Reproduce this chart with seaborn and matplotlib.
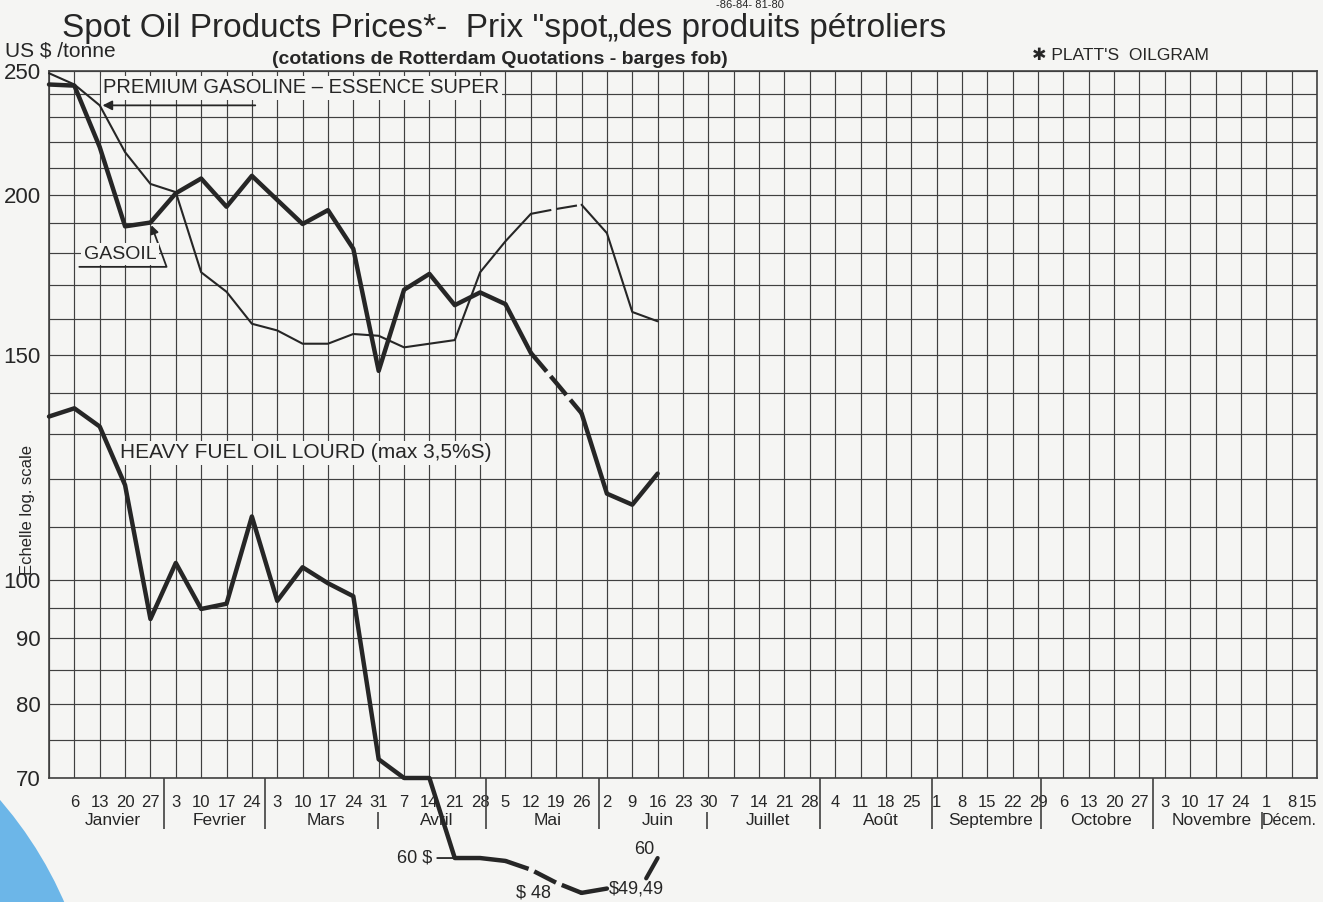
import numpy as np
import pandas as pd
import matplotlib
matplotlib.use('Agg')
import matplotlib.pyplot as plt
import matplotlib.dates as mdates
import matplotlib.ticker as mticker
from matplotlib.patches import Ellipse
import seaborn as sns

# ── Data: weekly Rotterdam spot quotations, US $ / tonne ──
weeks = pd.date_range('1985-12-30', periods=25, freq='7D')

gasoline = np.array([249, 244, 235, 216, 204, 201, 174, 168, 158.6, 156.7, 153, 153,
                     155.7, 155.2, 152, 153, 154, 174, 184, 193.3, 195, 196.5, 186.7,
                     162, 159.3])
gasoil = np.array([244, 243.5, 218, 189, 190.3, 200.6, 206, 195.8, 207, 198.2, 189.8,
                   194.6, 181.5, 145.7, 168.6, 173.5, 164, 167.8, 164.3, 150.5, 142.6,
                   135, 116.8, 114.5, 121.1])
fuel = np.array([134.2, 136.2, 131.8, 118.6, 93.2, 103.1, 94.9, 95.8, 112.1, 96.3, 102.3,
                 99.4, 97.1, 72.4, 70, 70, 60, 60, 59, 56, 51.5, 48, 49.49])
fuel_jun_x = pd.to_datetime(['1986-06-12 20:00', '1986-06-16 00:00'])
fuel_jun = np.array([53, 60])

# weeks drawn dashed (start, end index)
gasoline_gap = (19, 21)
gasoil_gap = (19, 21)
fuel_gap = (18, 21)

months = ['Janvier', 'Fevrier', 'Mars', 'Avril', 'Mai', 'Juin', 'Juillet', 'Août',
          'Septembre', 'Octobre', 'Novembre', 'Décem.']
short_sep = ['Avril', 'Juillet', 'Décem.']
ytick_major = [70, 80, 90, 100, 150, 200, 250]
ytick_minor = [75, 85, 95, 110, 120, 130, 140, 160, 170, 180, 190, 210, 220, 230, 240]

# ── Style ───────────────────────────────────────────
BG = '#f5f5f3'
INK = '#262626'
GRID = '#404040'
FONT = ['Liberation Sans', 'DejaVu Sans']

sns.set_theme(style='white')
plt.rcParams['font.family'] = FONT
plt.rcParams['text.color'] = INK

fig = plt.figure(figsize=(13.23, 9.02), dpi=100, facecolor=BG)
ax = fig.add_axes([49 / 1323, 1 - 778 / 902, 1268 / 1323, 707 / 902])
ax.set_facecolor(BG)

# log scale above 70, squeezed below the frame for the fuel oil collapse
LN70 = np.log(70)
D_PTS = [0, 10, 1e6]
U_PTS = [0, 0.1441, 0.1441 + (1e6 - 10) * 0.00523]


def fwd(v):
    v = np.asarray(v, dtype=float)
    low = LN70 - np.interp(70 - v, D_PTS, U_PTS)
    return np.where(v >= 70, np.log(np.maximum(v, 1e-9)), low)


def inv(u):
    u = np.asarray(u, dtype=float)
    low = 70 - np.interp(LN70 - u, U_PTS, D_PTS)
    return np.where(u >= LN70, np.exp(np.minimum(u, 700)), low)


ax.set_yscale('function', functions=(fwd, inv))


def draw(x, y, gap, lw, dash):
    a, b = gap
    kw = dict(ax=ax, color=INK, lw=lw, clip_on=False, zorder=3)
    sns.lineplot(x=x[:a + 1], y=y[:a + 1], **kw)
    sns.lineplot(x=x[a:b + 1], y=y[a:b + 1], linestyle=(0, dash), **kw)
    sns.lineplot(x=x[b:], y=y[b:], **kw)


draw(weeks, gasoline, gasoline_gap, 1.5, (10, 2.5))
draw(weeks, gasoil, gasoil_gap, 3.2, (5.5, 1.4))
draw(weeks[:len(fuel)], fuel, fuel_gap, 3.2, (5.5, 1.4))
sns.lineplot(x=fuel_jun_x, y=fuel_jun, ax=ax, color=INK, lw=3.0, clip_on=False, zorder=3)

# ── Axes ────────────────────────────────────────────
ax.set_ylim(70, 250)
x_end = pd.Timestamp('1986-12-15')
ax.set_xlim(pd.Timestamp('1985-12-30'), x_end)
ax.yaxis.set_major_locator(mticker.FixedLocator(ytick_major))
ax.yaxis.set_minor_locator(mticker.FixedLocator(ytick_minor))
ax.yaxis.set_major_formatter(mticker.FuncFormatter(lambda v, p: f'{v:g}'))
ax.yaxis.set_minor_formatter(mticker.NullFormatter())

xt = pd.date_range('1985-12-30', '1986-12-15', freq='7D')
ax.set_xticks(mdates.date2num(xt))
ax.set_xticklabels(['' if d.year == 1985 else str(d.day) for d in xt])
ax.get_xticklabels()[-1].set_ha('right')

ax.grid(True, which='major', axis='x', color=GRID, lw=0.85)
ax.grid(True, which='both', axis='y', color=GRID, lw=0.85)
ax.set_axisbelow(True)
for s in ax.spines.values():
    s.set_color(GRID)
    s.set_linewidth(1.2)
ax.tick_params(axis='x', which='major', direction='out', length=8, width=0.85,
               color=GRID, pad=4, labelsize=12, labelcolor=INK)
ax.tick_params(axis='y', which='major', direction='out', length=5, width=1.2,
               color=GRID, pad=1, labelsize=16, labelcolor=INK)
ax.tick_params(axis='y', which='minor', length=0)
ax.set_xlabel('')
ax.set_ylabel('')

# month names and separators under the week numbers
xax = ax.get_xaxis_transform()
for i, name in enumerate(months):
    start = pd.Timestamp(1986, i + 1, 1)
    end = min(start + pd.offsets.MonthBegin(1), x_end)
    if end == x_end:
        ax.text(end, -0.060, name, transform=xax, ha='right', va='center', fontsize=11.5)
    else:
        ax.text(start + (end - start) / 2, -0.060, name, transform=xax, ha='center',
                va='center', fontsize=12.5)
    if i == 0:
        continue
    sep = start - pd.Timedelta(days=1.3)
    ax.vlines(sep, -0.072, -0.048 if name in short_sep else 0, transform=xax,
              color=GRID, lw=1.2, clip_on=False)

# ── Series labels ───────────────────────────────────
lab_box = dict(boxstyle='square,pad=0.12', fc=BG, ec='none')
ax.text(0.0426, 0.976, 'PREMIUM GASOLINE – ESSENCE SUPER', transform=ax.transAxes,
        ha='left', va='center', fontsize=14.5, bbox=lab_box, zorder=1.5)
ax.annotate('', xy=(weeks[2], gasoline[2]), xytext=(112, 0), textcoords='offset points',
            arrowprops=dict(arrowstyle='-|>', color=INK, lw=1.3, mutation_scale=14,
                            shrinkA=0, shrinkB=2))
ax.annotate('GASOIL', xy=(weeks[4], gasoil[4]), xytext=(0.056, 0.741),
            textcoords='axes fraction', ha='center', va='center', fontsize=14,
            bbox=lab_box, zorder=1.5,
            arrowprops=dict(arrowstyle='-|>', color=INK, lw=1.3, mutation_scale=12,
                            relpos=(-0.06, -0.25), shrinkA=0, shrinkB=2,
                            connectionstyle='angle,angleA=0,angleB=-70,rad=0'))
ax.text(0.056, 0.46, 'HEAVY FUEL OIL LOURD (max 3,5%S)', transform=ax.transAxes,
        ha='left', va='center', fontsize=15, bbox=lab_box, zorder=1.5)

# fuel oil notes below the frame
note = dict(textcoords='offset points', va='center', fontsize=13, annotation_clip=False)
ax.annotate('60 $', xy=(weeks[16], fuel[16]), xytext=(-16, 0), ha='right',
            arrowprops=dict(arrowstyle='-', color=INK, lw=1.3, shrinkA=1, shrinkB=0), **note)
ax.annotate('$ 48', xy=(weeks[21], fuel[21]), xytext=(-22, 0), ha='right', **note)
ax.annotate('$49,49', xy=(weeks[22], fuel[22]), xytext=(1.5, 0), ha='left', **note)
ax.annotate('60', xy=(fuel_jun_x[1], fuel_jun[1]), xytext=(-10, 6), ha='center', **note)

# ── Figure texts ────────────────────────────────────
fig.text(0.567, 0.9945, '-86-84- 81-80', ha='center', va='center', fontsize=8)
fig.text(0.047, 0.968, 'Spot Oil Products Prices*-  Prix "spot„des produits pétroliers',
         ha='left', va='center', fontsize=24)
fig.text(0.004, 0.944, 'US $ /tonne', ha='left', va='center', fontsize=15)
fig.text(0.2056, 0.9335, '(cotations de Rotterdam Quotations - barges fob)',
         ha='left', va='center', fontsize=14, fontweight='bold')
fig.text(0.78, 0.938, '✱ PLATT\'S  OILGRAM', ha='left', va='center', fontsize=12.5)
fig.text(0.021, 0.4346, 'Echelle log. scale', rotation=90, ha='center', va='center',
         fontsize=12)

# blue corner from the scanned page
fig.patches.append(Ellipse((-300 / 1323, -158 / 902), 794 / 1323, 794 / 902,
                           transform=fig.transFigure, fc='#6cb6e8', ec='none', zorder=0))

fig.savefig('out.png', dpi=100, facecolor=BG)
